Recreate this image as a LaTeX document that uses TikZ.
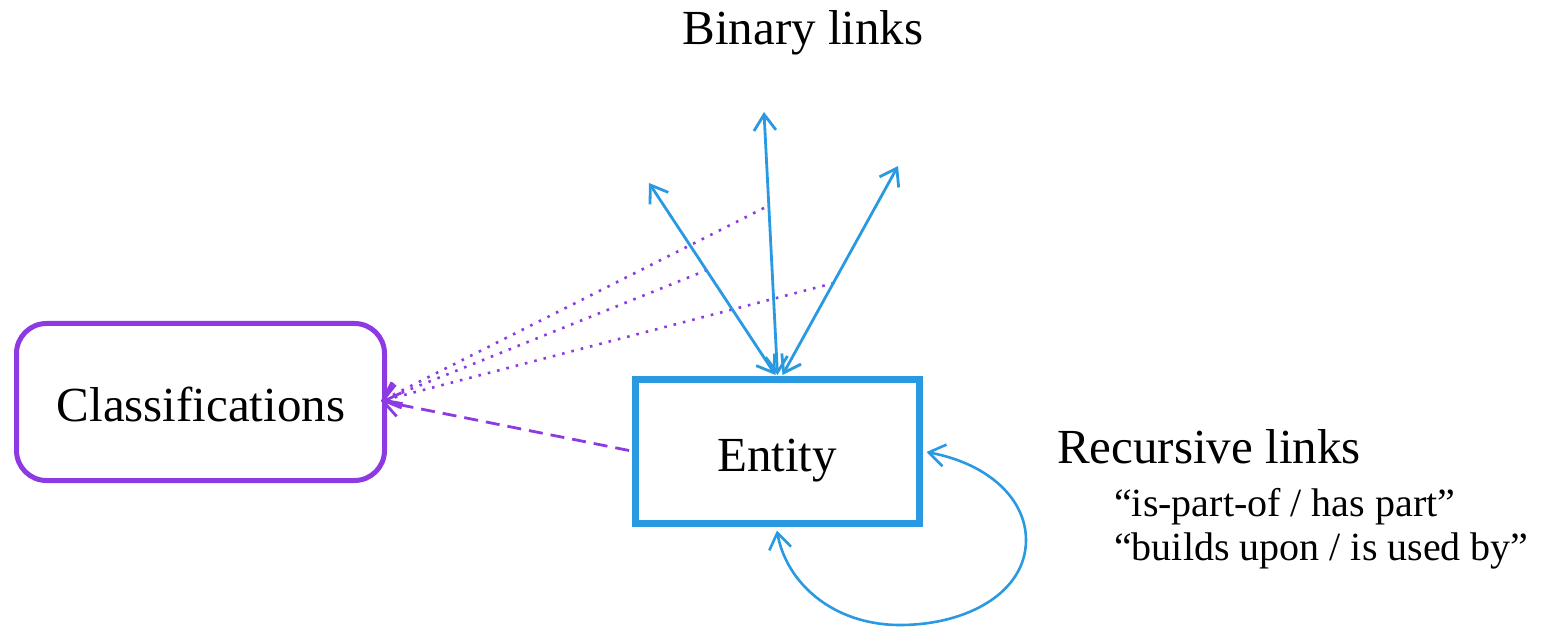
\documentclass[tikz,border=0pt]{standalone}
\usepackage{fontspec}
\setmainfont{Liberation Serif}
\usetikzlibrary{arrows.meta,calc}
\definecolor{eblue}{RGB}{41,153,226}
\definecolor{cpurple}{RGB}{142,58,226}
\begin{document}
\begin{tikzpicture}[x=1pt,y=-1pt,
  bigtext/.style={font=\fontsize{49}{58}\selectfont, inner sep=0pt},
  smalltext/.style={font=\fontsize{40}{48}\selectfont, inner sep=0pt},
  tip/.style={Straight Barb[length=16pt,width=22pt,line width=2.6pt]},
  bluelink/.style={draw=eblue, line width=2.8pt, {Straight Barb[length=16pt,width=22pt]}-{Straight Barb[length=16pt,width=22pt]}},
  dotlink/.style={draw=cpurple, line width=2.6pt, dash pattern=on 2.6pt off 7pt, -{Straight Barb[length=16pt,width=24pt]}},
  dashlink/.style={draw=cpurple, line width=2.8pt, dash pattern=on 14pt off 8pt, -{Straight Barb[length=16pt,width=24pt]}}
]
\useasboundingbox (0,0) rectangle (1543,628);

\node[draw=cpurple, line width=5pt, rounded corners=30pt, minimum width=368pt, minimum height=157pt, inner sep=0pt] (classif) at (200.5,402) {};
\node[bigtext] (classiftext) at (201,404) {Classifications};

\node[draw=eblue, line width=7pt, minimum width=284pt, minimum height=144pt, inner sep=0pt] (entity) at (777.5,451.5) {};
\node[bigtext, anchor=base] (entitytext) at (777,471) {Entity};

\node[bigtext, anchor=base] (binary) at (803,45) {Binary links};
\node[bigtext, anchor=base west] (recursive) at (1057,463) {Recursive links};
\node[smalltext, anchor=base west] (rl1) at (1114,516) {“is-part-of / has part”};
\node[smalltext, anchor=base west] (rl2) at (1114,560) {“builds upon / is used by”};

% binary link ends
\coordinate (b1) at (649,183);
\coordinate (b2) at (764,112);
\coordinate (b3) at (898,166);
\coordinate (e1) at ($(entity.north)+(-2,-1)$);
\coordinate (e2) at ($(entity.north)+(0,-1)$);
\coordinate (e3) at ($(entity.north)+(5,-1)$);

% dotted connectors start points (on the blue links)
\coordinate (d1) at (764,208);
\coordinate (d2) at (707,270);
\coordinate (d3) at (834,283);
\coordinate (cend) at ($(classif.east)+(-6,-1)$);

\draw[dotlink] (d1) -- (cend);
\draw[dotlink] (d2) -- (cend);
\draw[dotlink] (d3) -- (cend);
\draw[dashlink] ($(entity.west)+(-3,-1)$) -- (cend);

\draw[bluelink] (e1) -- (b1);
\draw[bluelink] (e2) -- (b2);
\draw[bluelink] (e3) -- (b3);

% recursive loop
\coordinate (r1) at ($(entity.east)+(3.5,0.5)$);
\coordinate (r2) at ($(entity.south)+(-0.5,3.5)$);
\draw[draw=eblue, line width=2.6pt, {Straight Barb[length=16pt,width=22pt]}-{Straight Barb[length=16pt,width=22pt]}]
  (r1) .. controls (990,464) and (1026,500) .. (1026,540)
       .. controls (1026,592) and (968,625) .. (900,625)
       .. controls (832,625) and (786,582) .. (r2);
\end{tikzpicture}
\end{document}
